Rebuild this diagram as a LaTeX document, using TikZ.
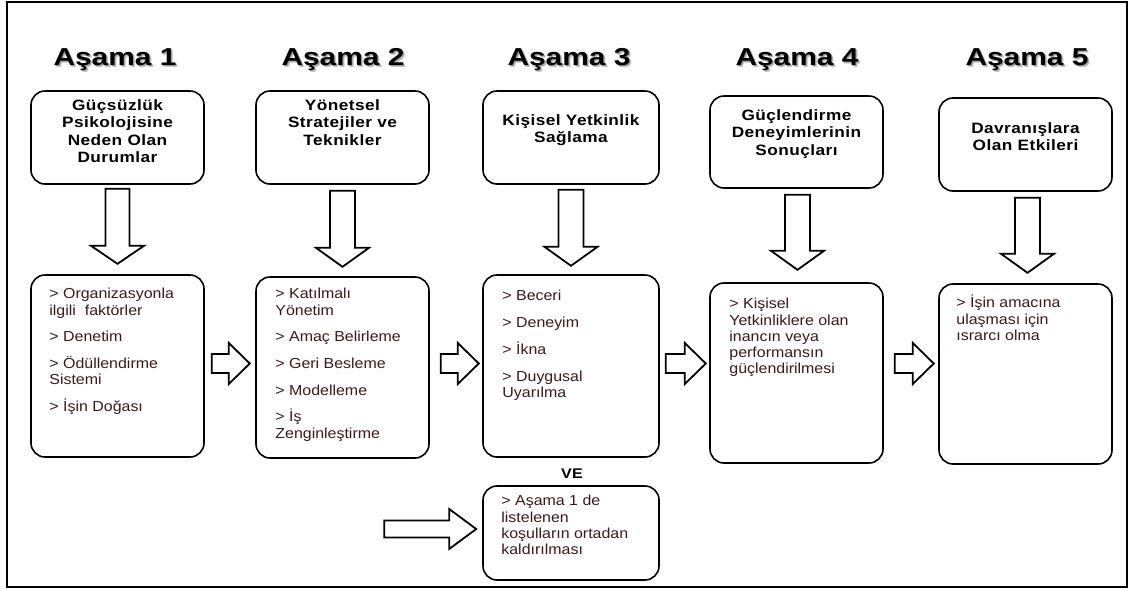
\documentclass[tikz,border=0pt]{standalone}
\usepackage{fontspec}
\usetikzlibrary{calc,positioning}

\newfontfamily\bodyfont[FakeStretch=1.1]{Liberation Sans}
\newfontfamily\headfont[FakeStretch=1.15,LetterSpace=3]{Liberation Sans}
\newfontfamily\titlefont[FakeStretch=1.22]{Liberation Sans}
\definecolor{bodyink}{RGB}{60,25,25}

% hollow block arrows: start, length, head length, half shaft, half head
\newcommand{\downblock}[5]{%
  \draw[blockline] (#1) ++(-#4,0) -- ++(0,#2-#3) -- ++(#4-#5,0) -- ++(#5,#3)
    -- ++(#5,-#3) -- ++(#4-#5,0) -- ++(0,-#2+#3) -- cycle;}
\newcommand{\rightblock}[5]{%
  \draw[blockline] (#1) ++(0,-#4) -- ++(#2-#3,0) -- ++(0,#4-#5) -- ++(#3,#5)
    -- ++(-#3,#5) -- ++(0,#4-#5) -- ++(-#2+#3,0) -- cycle;}

\tikzset{
  box/.style={draw, rounded corners=14pt, line width=1.6pt, minimum width=173pt, inner sep=0pt},
  headtext/.style={anchor=north, align=center, inner sep=0pt, font=\headfont\bfseries\fontsize{15}{17.5}\selectfont, execute at begin node=\strut},
  itemtext/.style={anchor=north west, align=left, inner sep=0pt, text=bodyink, font=\bodyfont\fontsize{14.5}{16.2}\selectfont, execute at begin node=\strut},
  stagetitle/.style={anchor=base, inner sep=0pt, font=\titlefont\bfseries\fontsize{24.5}{28}\selectfont},
  blockline/.style={draw, line width=1.8pt, fill=white},
}

\begin{document}
\begin{tikzpicture}[x=1pt,y=-1pt]

    \useasboundingbox (0,0) rectangle (1135,590);
    \draw[line width=1.6pt] (7,2) rectangle (1127,587);

    % stage titles, with a soft shadow
    \foreach \i/\x in {1/115,2/343,3/569,4/797,5/1027} {
        \node[stagetitle, text=black!22] (glow\i) at (\x+2,67) {Aşama \i};
        \node[stagetitle, text=black!40] (shadow\i) at (\x+1,66) {Aşama \i};
        \node[stagetitle] (title\i) at (\x,65) {Aşama \i};
    }

    % upper boxes
    \node[box, minimum height=93pt] (head1) at (117.5,137.5) {};
    \node[box, minimum height=93pt] (head2) at (342.5,137.5) {};
    \node[box, minimum height=93pt, minimum width=176pt] (head3) at (571,137.5) {};
    \node[box, minimum height=92pt] (head4) at (796.5,142) {};
    \node[box, minimum height=93pt] (head5) at (1025.5,144.5) {};

    \node[headtext] (htext1) at ($(head1.north)+(0,9)$) {Güçsüzlük\\Psikolojisine\\Neden Olan\\Durumlar};
    \node[headtext] (htext2) at ($(head2.north)+(0,9)$) {Yönetsel\\Stratejiler ve\\Teknikler};
    \node[headtext] (htext3) at ($(head3.north)+(0,24)$) {Kişisel Yetkinlik\\Sağlama};
    \node[headtext] (htext4) at ($(head4.north)+(0,14)$) {Güçlendirme\\Deneyimlerinin\\Sonuçları};
    \node[headtext] (htext5) at ($(head5.north)+(0,25)$) {Davranışlara\\Olan Etkileri};

    % lower boxes
    \node[box, minimum height=182pt] (mid1) at (117.5,366) {};
    \node[box, minimum height=181pt] (mid2) at (342.5,367.5) {};
    \node[box, minimum height=182pt, minimum width=176pt] (mid3) at (571,366) {};
    \node[box, minimum height=180pt] (mid4) at (796.5,373) {};
    \node[box, minimum height=180pt] (mid5) at (1025.5,374) {};
    \node[box, minimum height=94pt, minimum width=176pt] (cond) at (571,533) {};

    \node[itemtext] (mtext1) at ($(mid1.north west)+(19,14)$) {> Organizasyonla\\ilgili\ \ faktörler\\[10.5pt]> Denetim\\[10.5pt]> Ödüllendirme\\Sistemi\\[10.5pt]> İşin Doğası};
    \node[itemtext] (mtext2) at ($(mid2.north west)+(20,12)$) {> Katılmalı\\Yönetim\\[10.5pt]> Amaç Belirleme\\[10.5pt]> Geri Besleme\\[10.5pt]> Modelleme\\[10.5pt]> İş\\Zenginleştirme};
    \node[itemtext] (mtext3) at ($(mid3.north west)+(20,16)$) {> Beceri\\[10.5pt]> Deneyim\\[10.5pt]> İkna\\[10.5pt]> Duygusal\\Uyarılma};
    \node[itemtext] (mtext4) at ($(mid4.north west)+(20,16)$) {> Kişisel\\Yetkinliklere olan\\inancın veya\\performansın\\güçlendirilmesi};
    \node[itemtext] (mtext5) at ($(mid5.north west)+(18,12)$) {> İşin amacına\\ulaşması için\\ısrarcı olma};
    \node[itemtext] (ctext) at ($(cond.north west)+(19,10)$) {> Aşama 1 de\\listelenen\\koşulların ortadan\\kaldırılması};

    \node[font=\headfont\bfseries\fontsize{14}{16}\selectfont, anchor=base] (ve) at (572,478) {VE};

    % block arrows
    \downblock{$(head1.south)+(0,4)$}{75}{18}{12}{26.5}
    \downblock{$(head2.south)+(0,6)$}{76}{19}{12.5}{26.5}
    \downblock{$(head3.south)+(0,5)$}{76}{19}{12.5}{26.5}
    \downblock{$(head4.south)+(1,6)$}{75}{19}{12.5}{26.5}
    \downblock{$(head5.south)+(2,6)$}{75}{19}{12.5}{26.5}

    \rightblock{$(mid1.east)+(7,-2.5)$}{38}{21}{9.5}{20.5}
    \rightblock{$(mid2.east)+(11,-4)$}{38}{21}{9.5}{20.5}
    \rightblock{$(mid3.east)+(6,-2.5)$}{40}{21}{9.5}{20.5}
    \rightblock{$(mid4.east)+(11,-9.5)$}{39}{21}{9.5}{20.5}
    \rightblock{$(cond.west)+(-98,-4)$}{92}{27}{8.5}{20}

\end{tikzpicture}
\end{document}
